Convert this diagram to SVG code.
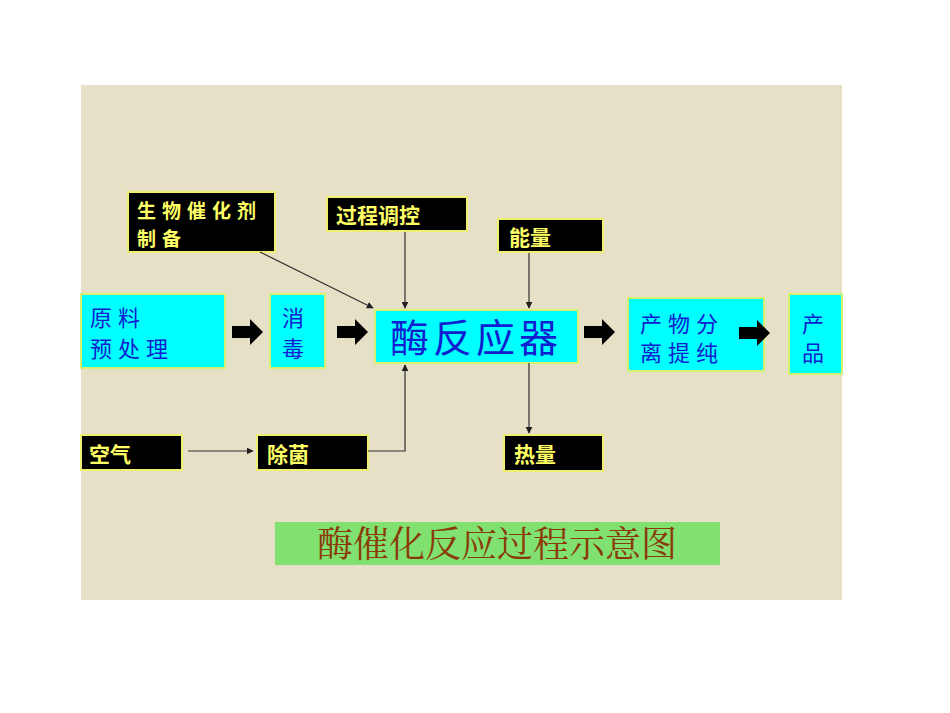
<svg xmlns="http://www.w3.org/2000/svg" width="950" height="713" viewBox="0 0 950 713">
<defs>
<style>
.bk{fill:#000;stroke:#f0f070;stroke-width:2}
.cy{fill:#00ffff;stroke:#d8f070;stroke-width:2}
.yt{fill:#ffff66;font-family:"Noto Sans CJK SC","Liberation Sans",sans-serif;font-weight:bold;font-size:21px}
.bt{fill:#1020d0;font-family:"Noto Sans CJK SC","Liberation Sans",sans-serif;font-size:22px;letter-spacing:6px}
.ln{fill:none;stroke:#303030;stroke-width:1.2}
.ba{fill:#000}
</style>
<marker id="ah" viewBox="0 0 10 10" refX="9" refY="5" markerWidth="7" markerHeight="7" orient="auto" markerUnits="userSpaceOnUse">
<path d="M0,0 L10,5 L0,10 Z" fill="#202020"/>
</marker>
<path id="blk" d="M0,-6 L18,-6 L18,-13 L31,0 L18,13 L18,6 L0,6 Z"/>
</defs>
<rect x="0" y="0" width="950" height="713" fill="#ffffff"/>
<rect x="81" y="85" width="761" height="515" fill="#e6e0c6"/>

<g id="catalyst">
<rect class="bk" x="128" y="192" width="147" height="60"/>
<text class="yt" style="font-size:19px;letter-spacing:6px" x="137" y="218">生物催化剂<tspan x="137" y="246">制备</tspan></text>
</g>
<g id="control">
<rect class="bk" x="327" y="197" width="140" height="34"/>
<text class="yt" x="336" y="223">过程调控</text>
</g>
<g id="energy">
<rect class="bk" x="498" y="219" width="105" height="33"/>
<text class="yt" x="509" y="245">能量</text>
</g>
<g id="pretreat">
<rect class="cy" x="81" y="294" width="144" height="74"/>
<text class="bt" x="90" y="326">原料<tspan x="90" y="357">预处理</tspan></text>
</g>
<g id="sterilize">
<rect class="cy" x="270" y="294" width="55" height="74"/>
<text class="bt" x="282" y="326">消<tspan x="282" y="357">毒</tspan></text>
</g>
<g id="reactor">
<rect class="cy" x="375" y="310" width="203" height="53"/>
<text fill="#1020d0" font-family="'Noto Sans CJK SC','Liberation Sans',sans-serif" font-size="39" letter-spacing="4" x="390" y="352">酶反应器</text>
</g>
<g id="separate">
<rect class="cy" x="628" y="298" width="136" height="73"/>
<text class="bt" x="640" y="332">产物分<tspan x="640" y="361">离提纯</tspan></text>
</g>
<g id="product">
<rect class="cy" x="789" y="294" width="53" height="80"/>
<text class="bt" x="802" y="332">产<tspan x="802" y="361">品</tspan></text>
</g>
<g id="air">
<rect class="bk" x="81" y="435" width="101" height="35"/>
<text class="yt" x="89" y="462">空气</text>
</g>
<g id="degerm">
<rect class="bk" x="257" y="435" width="111" height="35"/>
<text class="yt" x="267" y="462">除菌</text>
</g>
<g id="heat">
<rect class="bk" x="504" y="435" width="99" height="36"/>
<text class="yt" x="514" y="462">热量</text>
</g>
<g id="title">
<rect x="275" y="522" width="445" height="43" fill="#80e070"/>
<text x="497" y="557" text-anchor="middle" fill="#8a3a08" font-family="'Noto Serif CJK SC','Noto Sans CJK SC','Liberation Serif',serif" font-size="36">酶催化反应过程示意图</text>
</g>

<g id="connectors">
<line class="ln" x1="260" y1="252" x2="373" y2="308" marker-end="url(#ah)"/>
<line class="ln" x1="405" y1="232" x2="405" y2="308" marker-end="url(#ah)"/>
<line class="ln" x1="529" y1="253" x2="529" y2="308" marker-end="url(#ah)"/>
<line class="ln" x1="188" y1="451" x2="253" y2="451" marker-end="url(#ah)"/>
<polyline class="ln" points="368,451 405,451 405,365" marker-end="url(#ah)"/>
<line class="ln" x1="529" y1="363" x2="529" y2="433" marker-end="url(#ah)"/>
<use href="#blk" class="ba" x="232" y="332"/>
<use href="#blk" class="ba" x="337" y="332"/>
<use href="#blk" class="ba" x="584" y="332"/>
<use href="#blk" class="ba" x="739" y="333"/>
</g>
</svg>
